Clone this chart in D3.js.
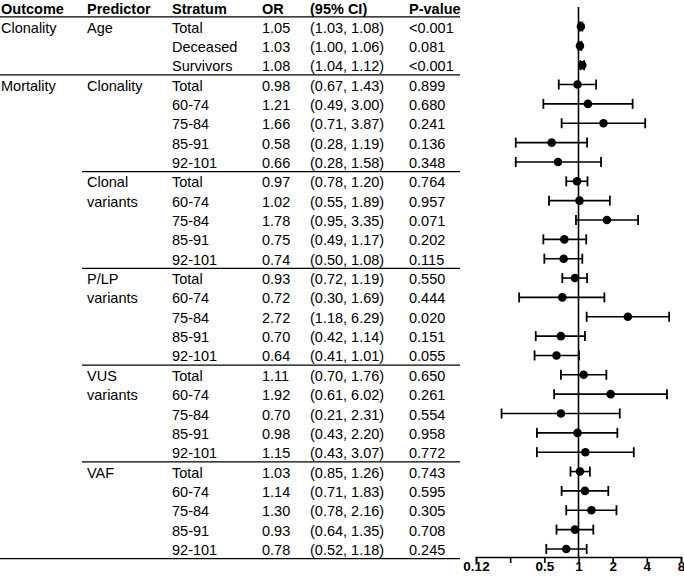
<!DOCTYPE html>
<html>
<head>
<meta charset="utf-8">
<script src="https://cdn.jsdelivr.net/npm/d3@7"></script>
<style>
  html, body { margin: 0; padding: 0; background: #fff; }
  svg { display: block; font-family: "Liberation Sans", Arial, sans-serif; }
</style>
</head>
<body>
<svg id="chart" width="684" height="579"></svg>
<script>
// ---- Data ----
const headers = ["Outcome", "Predictor", "Stratum", "OR", "(95% CI)", "P-value"];

// groups: outcome label, predictor label lines, number of rows
const groupOutcome   = ["Clonality", "Mortality", "", "", "", ""];
const groupPredictor = [["Age"], ["Clonality"], ["Clonal", "variants"], ["P/LP", "variants"], ["VUS", "variants"], ["VAF"]];
const groupSize      = [3, 5, 5, 5, 5, 5];

const strata = ["Total", "Deceased", "Survivors",
  "Total", "60-74", "75-84", "85-91", "92-101",
  "Total", "60-74", "75-84", "85-91", "92-101",
  "Total", "60-74", "75-84", "85-91", "92-101",
  "Total", "60-74", "75-84", "85-91", "92-101",
  "Total", "60-74", "75-84", "85-91", "92-101"];
const oddsRatio = [1.05, 1.03, 1.08,
  0.98, 1.21, 1.66, 0.58, 0.66,
  0.97, 1.02, 1.78, 0.75, 0.74,
  0.93, 0.72, 2.72, 0.70, 0.64,
  1.11, 1.92, 0.70, 0.98, 1.15,
  1.03, 1.14, 1.30, 0.93, 0.78];
const ciLow = [1.03, 1.00, 1.04,
  0.67, 0.49, 0.71, 0.28, 0.28,
  0.78, 0.55, 0.95, 0.49, 0.50,
  0.72, 0.30, 1.18, 0.42, 0.41,
  0.70, 0.61, 0.21, 0.43, 0.43,
  0.85, 0.71, 0.78, 0.64, 0.52];
const ciHigh = [1.08, 1.06, 1.12,
  1.43, 3.00, 3.87, 1.19, 1.58,
  1.20, 1.89, 3.35, 1.17, 1.08,
  1.19, 1.69, 6.29, 1.14, 1.01,
  1.76, 6.02, 2.31, 2.20, 3.07,
  1.26, 1.83, 2.16, 1.35, 1.18];
const pValues = ["<0.001", "0.081", "<0.001",
  "0.899", "0.680", "0.241", "0.136", "0.348",
  "0.764", "0.957", "0.071", "0.202", "0.115",
  "0.550", "0.444", "0.020", "0.151", "0.055",
  "0.650", "0.261", "0.554", "0.958", "0.772",
  "0.743", "0.595", "0.305", "0.708", "0.245"];

const tickValues = [0.125, 0.25, 0.5, 1, 2, 4, 8];
const tickLabels = ["0.12", "", "0.5", "1", "2", "4", "8"];

// ---- Layout ----
const svg = d3.select("#chart");
const fs = 14.5;
const colX = [1, 87, 172, 262, 310, 409];
const nRows = strata.length;
const step = 19.35;
const y = d3.scaleLinear().domain([0, nRows - 1]).range([26.5, 26.5 + step * (nRows - 1)]);
const x = d3.scaleLog().base(2).domain([0.125, 8]).range([476, 681]);
const tableRight = 460;
const axisY = 557;

// Headers
svg.append("g").selectAll("text").data(headers).join("text")
  .attr("x", (d, i) => colX[i]).attr("y", 13.5)
  .attr("font-size", fs).attr("font-weight", "bold").attr("fill", "#000")
  .text(d => d);
svg.append("line").attr("x1", 0).attr("x2", tableRight)
  .attr("y1", y(-1) + step / 2).attr("y2", y(-1) + step / 2)
  .attr("stroke", "#000").attr("stroke-width", 1.3);

// Rows text
const rows = d3.range(nRows);
const rg = svg.append("g");
const baseOff = 6;
rg.selectAll("text.st").data(rows).join("text").attr("class", "st")
  .attr("x", colX[2]).attr("y", i => y(i) + baseOff).attr("font-size", fs).text(i => strata[i]);
rg.selectAll("text.or").data(rows).join("text").attr("class", "or")
  .attr("x", colX[3]).attr("y", i => y(i) + baseOff).attr("font-size", fs).text(i => oddsRatio[i].toFixed(2));
rg.selectAll("text.ci").data(rows).join("text").attr("class", "ci")
  .attr("x", colX[4]).attr("y", i => y(i) + baseOff).attr("font-size", fs)
  .text(i => `(${ciLow[i].toFixed(2)}, ${ciHigh[i].toFixed(2)})`);
rg.selectAll("text.pv").data(rows).join("text").attr("class", "pv")
  .attr("x", colX[5]).attr("y", i => y(i) + baseOff).attr("font-size", fs).text(i => pValues[i]);

// Group labels and separator lines
let start = 0;
groupSize.forEach((n, g) => {
  if (groupOutcome[g]) {
    rg.append("text").attr("x", colX[0]).attr("y", y(start) + baseOff)
      .attr("font-size", fs).text(groupOutcome[g]);
  }
  groupPredictor[g].forEach((line, k) => {
    rg.append("text").attr("x", colX[1]).attr("y", y(start + k) + baseOff)
      .attr("font-size", fs).text(line);
  });
  const end = start + n - 1;
  const ly = y(end) + step / 2;
  const isLast = g === groupSize.length - 1;
  const nextNewOutcome = !isLast && groupOutcome[g + 1] !== "";
  rg.append("line")
    .attr("x1", (isLast || nextNewOutcome) ? 0 : 82).attr("x2", tableRight)
    .attr("y1", ly).attr("y2", ly)
    .attr("stroke", "#000").attr("stroke-width", 1.3);
  start += n;
});

// Forest plot
const fg = svg.append("g");
// reference line at OR = 1
fg.append("line").attr("x1", x(1)).attr("x2", x(1)).attr("y1", 7).attr("y2", axisY)
  .attr("stroke", "#000").attr("stroke-width", 1.6);

// axis
const axis = d3.axisBottom(x).tickValues(tickValues).tickSize(6)
  .tickFormat((d, i) => tickLabels[i]);
const ag = svg.append("g").attr("transform", `translate(0,${axisY})`).call(axis);
ag.select(".domain").attr("stroke", "#000").attr("stroke-width", 1.6);
ag.selectAll(".tick line").attr("stroke", "#000").attr("stroke-width", 1.6);
ag.selectAll(".tick text").attr("font-size", 13.5).attr("font-weight", "bold")
  .attr("font-family", "Liberation Sans, Arial, sans-serif").attr("fill", "#000").attr("dy", "0.6em").attr("y", 6);

// error bars
const capH = 5;
fg.selectAll("line.ci").data(rows).join("line").attr("class", "ci")
  .attr("x1", i => x(ciLow[i])).attr("x2", i => x(ciHigh[i]))
  .attr("y1", i => y(i)).attr("y2", i => y(i))
  .attr("stroke", "#000").attr("stroke-width", 1.6);
fg.selectAll("line.capl").data(rows).join("line").attr("class", "capl")
  .attr("x1", i => x(ciLow[i])).attr("x2", i => x(ciLow[i]))
  .attr("y1", i => y(i) - capH).attr("y2", i => y(i) + capH)
  .attr("stroke", "#000").attr("stroke-width", 1.8);
fg.selectAll("line.caph").data(rows).join("line").attr("class", "caph")
  .attr("x1", i => x(ciHigh[i])).attr("x2", i => x(ciHigh[i]))
  .attr("y1", i => y(i) - capH).attr("y2", i => y(i) + capH)
  .attr("stroke", "#000").attr("stroke-width", 1.8);
fg.selectAll("circle").data(rows).join("circle")
  .attr("cx", i => x(oddsRatio[i])).attr("cy", i => y(i)).attr("r", 4.3)
  .attr("fill", "#000");
</script>
</body>
</html>
